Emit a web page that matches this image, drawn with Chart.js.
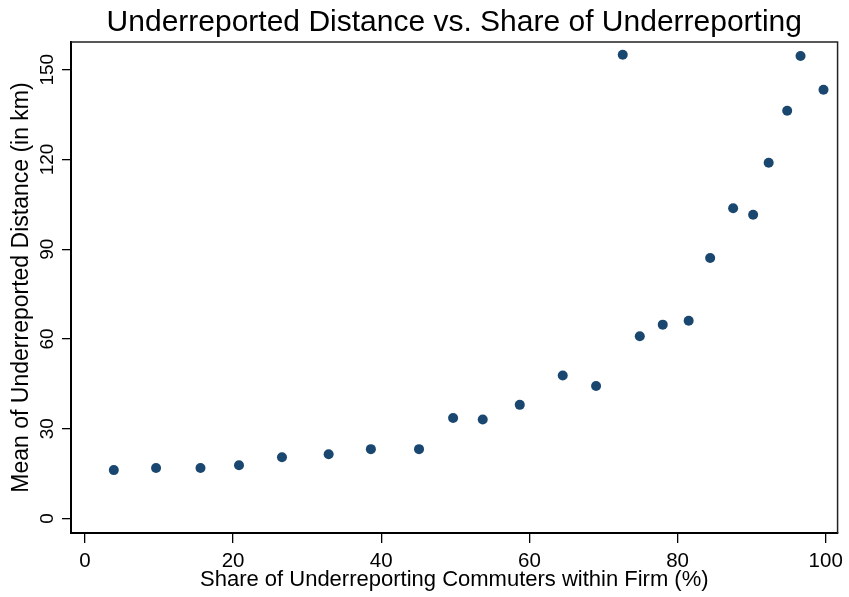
<!DOCTYPE html>
<html>
<head>
<meta charset="utf-8">
<script src="https://cdn.jsdelivr.net/npm/chart.js@4"></script>
<style>
  html, body { margin: 0; padding: 0; background: #fff; }
  #wrap { width: 849px; height: 597px; }
</style>
</head>
<body>
<div id="wrap"><canvas id="chart" width="849" height="597"></canvas></div>
<script>
// 読み取ったデータ
const shareX = [3.9, 9.6, 15.6, 20.8, 26.6, 32.9, 38.6, 45.1, 49.7, 53.7, 58.7, 64.5, 69.0,
  72.6, 74.9, 78.0, 81.5, 84.4, 87.5, 90.2, 92.3, 94.8, 96.6, 99.7];
const meanDistY = [16.2, 16.9, 16.9, 17.8, 20.5, 21.5, 23.2, 23.2, 33.6, 33.1, 38.0, 47.8, 44.3,
  155.0, 60.9, 64.8, 66.1, 87.1, 103.7, 101.5, 118.9, 136.3, 154.6, 143.3];
const xTicks = [0, 20, 40, 60, 80, 100];
const yTicks = [0, 30, 60, 90, 120, 150];

const FONT = '"Liberation Sans", Arial, sans-serif';
const NAVY = '#1a476f';

// プロット領域の上・右の枠線
const frame = {
  id: 'frame',
  afterDraw(chart) {
    const { ctx, chartArea: a } = chart;
    ctx.save();
    ctx.strokeStyle = '#222';
    ctx.lineWidth = 1.5;
    ctx.beginPath();
    ctx.moveTo(a.left, a.top);
    ctx.lineTo(a.right, a.top);
    ctx.lineTo(a.right, a.bottom);
    ctx.stroke();
    ctx.restore();
  }
};

new Chart(document.getElementById('chart'), {
  type: 'scatter',
  data: {
    datasets: [{
      data: shareX.map((x, i) => ({ x: x, y: meanDistY[i] })),
      backgroundColor: NAVY,
      borderColor: NAVY,
      borderWidth: 0,
      pointRadius: 5,
      pointHoverRadius: 5
    }]
  },
  options: {
    responsive: false,
    animation: false,
    layout: { padding: { left: 0, right: 9, top: 0, bottom: 0 } },
    plugins: {
      legend: { display: false },
      tooltip: { enabled: false },
      title: {
        display: true,
        fullSize: false,
        text: 'Underreported Distance vs. Share of Underreporting',
        color: '#000',
        font: { family: FONT, size: 30, weight: 'normal', lineHeight: 1.2 },
        padding: { top: 5, bottom: 1 }
      }
    },
    scales: {
      x: {
        type: 'linear',
        min: -1.88,
        max: 101.6,
        afterBuildTicks: s => { s.ticks = xTicks.map(v => ({ value: v })); },
        afterFit: s => { s.height = 64; },
        border: { display: true, color: '#000', width: 2 },
        grid: { drawOnChartArea: false, drawTicks: true, tickLength: 10, color: '#000', lineWidth: 1.3 },
        ticks: { color: '#000', padding: 6, maxRotation: 0, font: { family: FONT, size: 20.5 } },
        title: {
          display: true,
          text: 'Share of Underreporting Commuters within Firm (%)',
          color: '#000',
          font: { family: FONT, size: 22, lineHeight: 1.2 },
          padding: { top: 0, bottom: 3.8 }
        }
      },
      y: {
        type: 'linear',
        min: -4.82,
        max: 159.25,
        afterBuildTicks: s => { s.ticks = yTicks.map(v => ({ value: v })); },
        afterFit: s => { s.width = 71; },
        border: { display: true, color: '#000', width: 2 },
        grid: { drawOnChartArea: false, drawTicks: true, tickLength: 9, color: '#000', lineWidth: 1.3 },
        ticks: {
          color: '#000', padding: -1.5, minRotation: 90, maxRotation: 90, crossAlign: 'center',
          font: { family: FONT, size: 19 }
        },
        title: {
          display: true,
          text: 'Mean of Underreported Distance (in km)',
          color: '#000',
          font: { family: FONT, size: 23, lineHeight: 1.2 },
          padding: { top: 8.2, bottom: 0 }
        }
      }
    }
  },
  plugins: [frame]
});
</script>
</body>
</html>
